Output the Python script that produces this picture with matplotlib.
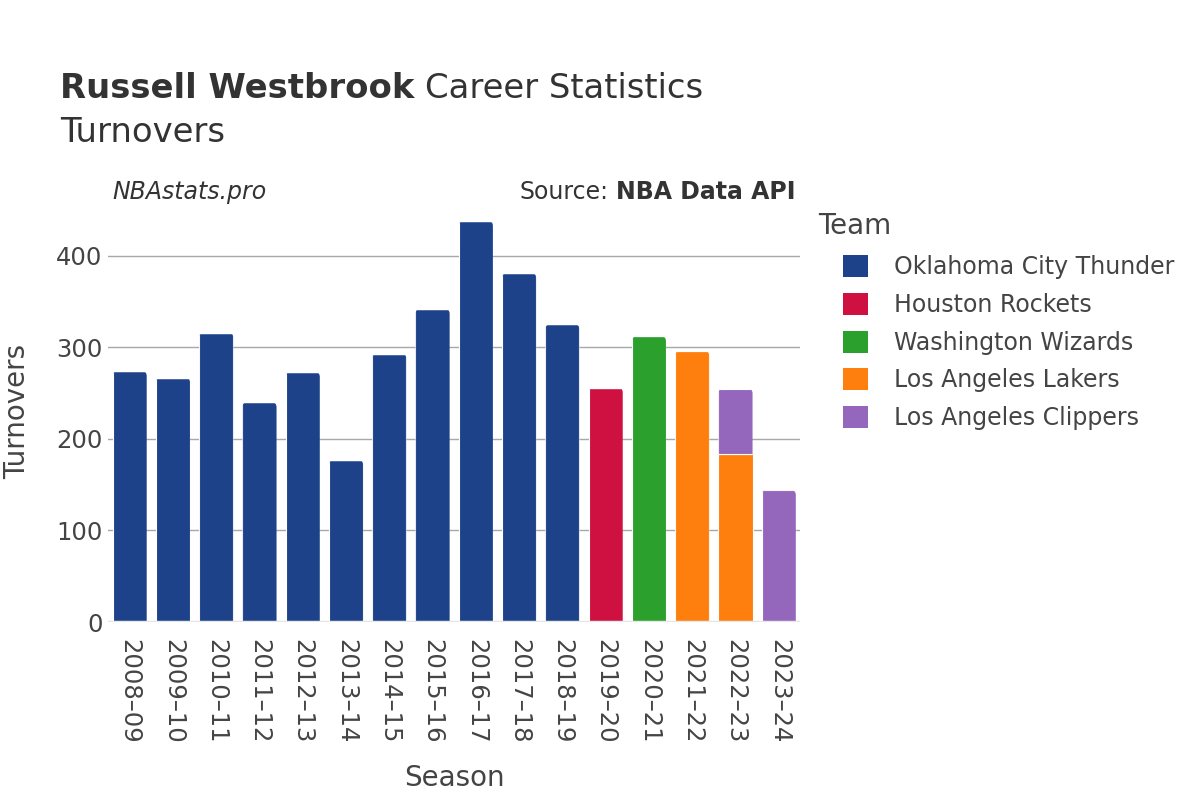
import matplotlib
matplotlib.use("Agg")
import matplotlib.pyplot as plt
from matplotlib.patches import Patch, FancyBboxPatch
import numpy as np

plt.rcParams['font.family'] = ['DejaVu Sans']

seasons = ["2008–09", "2009–10", "2010–11", "2011–12", "2012–13", "2013–14",
           "2014–15", "2015–16", "2016–17", "2017–18", "2018–19", "2019–20",
           "2020–21", "2021–22", "2022–23", "2023–24"]
teams = ["Oklahoma City Thunder", "Houston Rockets", "Washington Wizards",
         "Los Angeles Lakers", "Los Angeles Clippers"]
colors = ["#1d428a", "#ce1141", "#2ca02c", "#ff7f0e", "#9467bd"]
# turnovers per team per season (stack order = team order)
tov = {
    "Oklahoma City Thunder": [274, 267, 316, 240, 273, 177, 293, 342, 438, 381, 325, 0, 0, 0, 0, 0],
    "Houston Rockets":       [0, 0, 0, 0, 0, 0, 0, 0, 0, 0, 0, 256, 0, 0, 0, 0],
    "Washington Wizards":    [0, 0, 0, 0, 0, 0, 0, 0, 0, 0, 0, 0, 312, 0, 0, 0],
    "Los Angeles Lakers":    [0, 0, 0, 0, 0, 0, 0, 0, 0, 0, 0, 0, 0, 296, 184, 0],
    "Los Angeles Clippers":  [0, 0, 0, 0, 0, 0, 0, 0, 0, 0, 0, 0, 0, 0, 71, 144],
}
yticks = [0, 100, 200, 300, 400]

TXT = "#444444"
fig = plt.figure(figsize=(12, 8), dpi=100)
ax_pos = [0.09, 0.2225, 0.577, 0.5265]
ax = fig.add_axes(ax_pos)

x = np.arange(len(seasons))
bottom = np.zeros(len(seasons))
width = 0.79
top_patch = [None] * len(seasons)
for team, col in zip(teams, colors):
    vals = np.array(tov[team], dtype=float)
    bars = ax.bar(x, vals, width=width, bottom=bottom, color=col,
                  edgecolor="white", linewidth=0.8, zorder=3)
    for i, b in enumerate(bars):
        if vals[i] > 0:
            top_patch[i] = b
    bottom += vals

ymax = 460
ax.set_xlim(-0.5, len(seasons) - 0.5)
ax.set_ylim(0, ymax)

# round the top corners of the top segment
px_per_x = (ax_pos[2] * 1200) / len(seasons)
px_per_y = (ax_pos[3] * 800) / ymax
r = 5.0
for b in top_patch:
    if b is None:
        continue
    bx, by = b.get_x(), b.get_y()
    bw, bh = b.get_width(), b.get_height()
    clip = FancyBboxPatch((bx, by - 50), bw, bh + 50,
                          boxstyle=f"round,pad=0,rounding_size={r/px_per_x}",
                          mutation_aspect=px_per_x / px_per_y,
                          transform=ax.transData, facecolor="none", edgecolor="none")
    b.set_clip_path(clip)

ax.set_yticks(yticks)
ax.set_xticks(x)
ax.set_xticklabels(seasons, rotation=-90, fontsize=17.5, color=TXT)
ax.tick_params(axis='y', labelsize=17.5, colors=TXT, length=0, pad=4)
ax.tick_params(axis='x', length=0, pad=12)
ax.grid(axis='y', color="#a8a8a8", linewidth=1, zorder=0)
ax.set_axisbelow(True)
for s in ax.spines.values():
    s.set_visible(False)
ax.axhline(0, color="#e6e6e6", linewidth=2.5, zorder=4)

ax.set_ylabel("Turnovers", fontsize=20, color=TXT, labelpad=18)
ax.set_xlabel("Season", fontsize=20, color=TXT, labelpad=15)

t1 = fig.text(0.05, 0.889, "Russell Westbrook", fontsize=24.4, fontweight="bold",
              color="#333333", va="center", ha="left")
fig.canvas.draw()
bb = t1.get_window_extent()
fig.text(bb.x1 / 1200 + 0.009, 0.889, "Career Statistics", fontsize=24.4,
         color="#333333", va="center", ha="left")
fig.text(0.05, 0.835, "Turnovers", fontsize=24.4, color="#333333", va="center", ha="left")

fig.text(0.094, 0.76, "NBAstats.pro", fontsize=17, style="italic",
         color="#333333", va="center", ha="left")
t2 = fig.text(0.663, 0.76, "NBA Data API", fontsize=17, fontweight="bold",
              color="#333333", va="center", ha="right")
fig.canvas.draw()
bb2 = t2.get_window_extent()
fig.text(bb2.x0 / 1200 - 0.006, 0.76, "Source:", fontsize=17,
         color="#333333", va="center", ha="right")

fig.text(818 / 1200, 1 - 226 / 800, "Team", fontsize=20, color=TXT,
         va="center", ha="left")
handles = [Patch(facecolor=c, edgecolor="none", label=t) for t, c in zip(teams, colors)]
leg = fig.legend(handles=handles, loc="upper left",
                 bbox_to_anchor=(843 / 1200, 1 - 255 / 800), frameon=False, fontsize=17,
                 handlelength=1.05, handleheight=1.05,
                 labelspacing=0.585, handletextpad=1.1, borderaxespad=0, borderpad=0)
for txt in leg.get_texts():
    txt.set_color(TXT)

fig.savefig("out.png", dpi=100, facecolor="white")
